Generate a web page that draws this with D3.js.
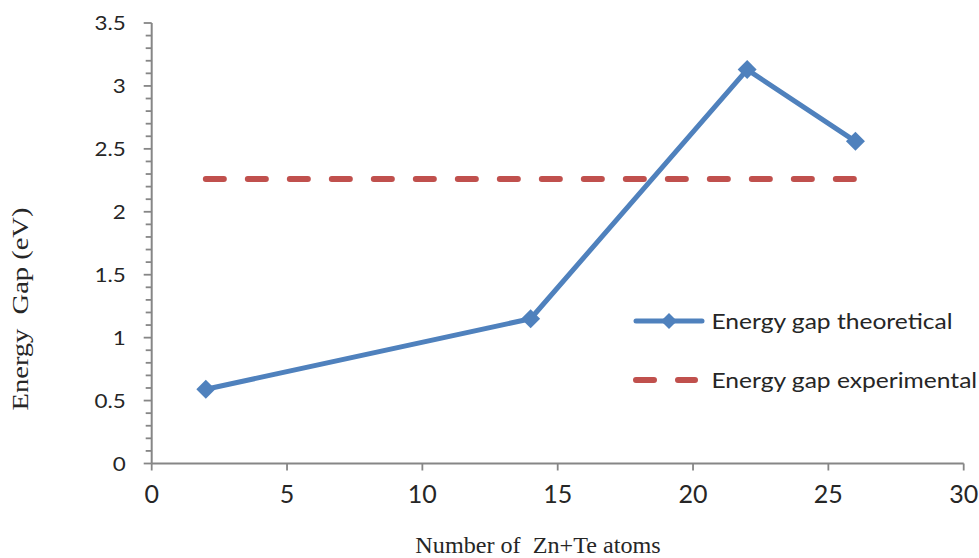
<!DOCTYPE html>
<html>
<head>
<meta charset="utf-8">
<script src="https://cdn.jsdelivr.net/npm/d3@7"></script>
<style>
  html, body { margin: 0; padding: 0; background: #fff; }
  svg { display: block; }
  text { white-space: pre; }
</style>
</head>
<body>
<svg id="chart" width="979" height="558"></svg>
<script>
// Number of Zn+Te atoms in each cluster and the computed energy gap (eV)
const atoms = [2, 14, 22, 26];
const gapTheoretical = [0.59, 1.15, 3.13, 2.56];
// Measured bulk gap, drawn across the same atom range
const gapExperimental = [2.26, 2.26];
const experimentalRange = [2, 26];

const xTicks = [0, 5, 10, 15, 20, 25, 30];
const yTicks = [0, 0.5, 1, 1.5, 2, 2.5, 3, 3.5];
const seriesNames = ["Energy gap theoretical", "Energy gap experimental"];

const BLUE = "#4F81BD", RED = "#C0504D", AXIS = "#868686", INK = "#262626";
const tickFont = "Lato, 'Open Sans', sans-serif";
const serif = "'Liberation Serif', 'Times New Roman', serif";

const svg = d3.select("#chart");
const margin = { left: 151.7, right: 15.3, top: 23, bottom: 94.5 };
const W = 979, H = 558;

const x = d3.scaleLinear().domain([0, 30]).range([margin.left, W - margin.right]);
const y = d3.scaleLinear().domain([0, 3.5]).range([H - margin.bottom, margin.top]);

// Y axis with minor ticks every 0.1
const minorY = d3.range(0, 3.5001, 0.1).filter(v => Math.abs(v * 2 - Math.round(v * 2)) > 1e-6);
const gy = svg.append("g").attr("transform", `translate(${x(0)},0)`);
gy.append("line").attr("y1", y(0)).attr("y2", y(3.5)).attr("stroke", AXIS).attr("stroke-width", 2);
gy.selectAll("line.minor").data(minorY).join("line").attr("class", "minor")
  .attr("x1", -6).attr("x2", 0).attr("y1", d => y(d)).attr("y2", d => y(d))
  .attr("stroke", AXIS).attr("stroke-width", 1.8);
gy.selectAll("line.major").data(yTicks).join("line").attr("class", "major")
  .attr("x1", -8).attr("x2", 0).attr("y1", d => y(d)).attr("y2", d => y(d))
  .attr("stroke", AXIS).attr("stroke-width", 1.8);
gy.selectAll("text").data(yTicks).join("text")
  .attr("transform", d => `translate(-26,${y(d)}) scale(1.15,1)`)
  .attr("text-anchor", "end").attr("dy", "0.36em")
  .attr("font-family", tickFont).attr("font-size", 19.5).attr("fill", INK)
  .text(d => d);

// X axis
const gx = svg.append("g").attr("transform", `translate(0,${y(0)})`);
gx.append("line").attr("x1", x(0)).attr("x2", x(30)).attr("stroke", AXIS).attr("stroke-width", 2);
gx.selectAll("line.tick").data(xTicks).join("line").attr("class", "tick")
  .attr("x1", d => x(d)).attr("x2", d => x(d)).attr("y1", 0).attr("y2", 7)
  .attr("stroke", AXIS).attr("stroke-width", 1.8);
gx.selectAll("text").data(xTicks).join("text")
  .attr("x", d => x(d)).attr("y", 39.5)
  .attr("text-anchor", "middle")
  .attr("font-family", tickFont).attr("font-size", 25).attr("fill", INK)
  .text(d => d);

// Axis titles
svg.append("text")
  .attr("transform", "translate(538,553) scale(1.05,1)")
  .attr("text-anchor", "middle")
  .attr("font-family", serif).attr("font-size", 23).attr("fill", INK)
  .text("Number of  Zn+Te atoms");
svg.append("text")
  .attr("transform", "translate(28,309) rotate(-90) scale(1.24,1)")
  .attr("text-anchor", "middle")
  .attr("font-family", serif).attr("font-size", 23).attr("fill", INK)
  .text("Energy  Gap (eV)");

// Experimental gap (dashed)
const expPts = experimentalRange.map((a, i) => [a, gapExperimental[i]]);
svg.append("path")
  .attr("d", d3.line().x(d => x(d[0])).y(d => y(d[1]))(expPts))
  .attr("fill", "none").attr("stroke", RED).attr("stroke-width", 6)
  .attr("stroke-linecap", "round").attr("stroke-dasharray", "18 24");

// Theoretical gap line with diamond markers
const theoPts = atoms.map((a, i) => [a, gapTheoretical[i]]);
svg.append("path")
  .attr("d", d3.line().x(d => x(d[0])).y(d => y(d[1]))(theoPts))
  .attr("fill", "none").attr("stroke", BLUE).attr("stroke-width", 5)
  .attr("stroke-linejoin", "round");
const diamond = d3.symbol().type(d3.symbolSquare).size(180);
svg.selectAll("path.marker").data(theoPts).join("path").attr("class", "marker")
  .attr("transform", d => `translate(${x(d[0])},${y(d[1])}) rotate(45)`)
  .attr("d", diamond).attr("fill", BLUE);

// Legend
const lg = svg.append("g");
lg.append("line").attr("x1", 636).attr("x2", 702).attr("y1", 321).attr("y2", 321)
  .attr("stroke", BLUE).attr("stroke-width", 5).attr("stroke-linecap", "round");
lg.append("path").attr("transform", "translate(669,321) rotate(45)")
  .attr("d", d3.symbol().type(d3.symbolSquare).size(130)).attr("fill", BLUE);
lg.append("line").attr("x1", 636).attr("x2", 695).attr("y1", 380).attr("y2", 380)
  .attr("stroke", RED).attr("stroke-width", 6).attr("stroke-linecap", "round")
  .attr("stroke-dasharray", "18 24");
lg.selectAll("text").data(seriesNames).join("text")
  .attr("transform", (d, i) => `translate(711.5,${329 + i * 58.5}) scale(1.2,1)`)
  .attr("font-family", tickFont).attr("font-size", 20.5).attr("fill", INK)
  .text(d => d);
</script>
</body>
</html>
